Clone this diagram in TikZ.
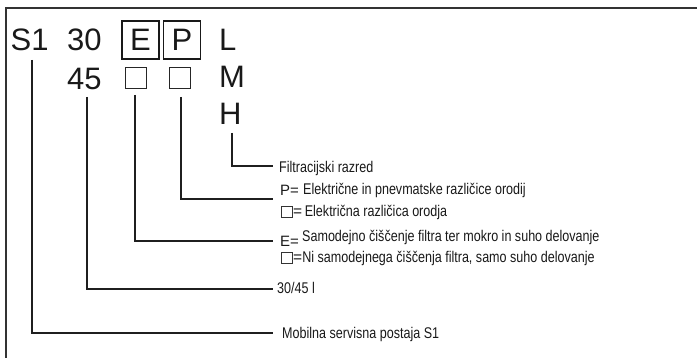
\documentclass[tikz,border=0pt]{standalone}
\usepackage{fontspec}
\setmainfont{Liberation Sans}
\newfontfamily\cond[FakeStretch=0.81]{Liberation Sans}
\begin{document}
\begin{tikzpicture}[x=1pt,y=-1pt,
  big/.style={inner sep=0pt, anchor=base west, font=\fontsize{31}{31}\selectfont, text=black!90},
  bigbox/.style={draw=black!90, line width=1.4pt, minimum width=37pt, minimum height=38pt, inner sep=0pt, font=\fontsize{31}{31}\selectfont, text=black!90},
  emptybox/.style={draw=black!85, line width=0.8pt, minimum size=21pt, inner sep=0pt},
  tinybox/.style={draw=black!80, line width=0.6pt, minimum size=11pt, inner sep=0pt},
  small/.style={inner sep=0pt, anchor=base west, font=\cond\fontsize{15.5}{16}\selectfont, text=black!90},
  letter/.style={inner sep=0pt, anchor=base west, font=\fontsize{15}{15}\selectfont, text=black!90},
  conn/.style={line width=1.6pt, draw=black!88},
  border/.style={line width=1.6pt, draw=black!80}]
\useasboundingbox (0,0) rectangle (697,358);
\draw[border] (6,358) -- (6,8) -- (697,8);

% code letters
\node[big] (S1) at (10.5,51) {S1};
\node[big] (n30) at (67,51) {30};
\node[bigbox] (E) at (140.5,40) {E};
\node[bigbox] (P) at (182,40) {P};
\node[big] (L) at (219,51) {L};
\node[big] (n45) at (67,90) {45};
\node[emptybox] (E2) at (135.5,77.5) {};
\node[emptybox] (P2) at (179.5,77.5) {};
\node[big] (M) at (219,88) {M};
\node[big] (H) at (219,125) {H};

% legend texts
\node[small] (filt) at (279,173) {Filtracijski razred};
\node[letter] (Pl) at (280,196) {P=};
\node[small] (ptext) at (303,195) {Električne in pnevmatske različice orodij};
\node[tinybox] (b1) at (286.5,211.5) {};
\node[small] (eq1) at (293,217) {{\normalfont=}\,Električna različica orodja};
\node[letter] (El) at (280,247) {E=};
\node[small] (etext) at (302,242) {Samodejno čiščenje filtra ter mokro in suho delovanje};
\node[tinybox] (b2) at (286.5,257.5) {};
\node[small] (eq2) at (293,263) {{\normalfont=}Ni samodejnega čiščenja filtra, samo suho delovanje};
\node[small] (vol) at (277,294) {30/45 l};
\node[small] (mob) at (282,339) {Mobilna servisna postaja S1};

% connector ends
\coordinate (cS) at (32,60);
\coordinate (c45) at (87,97);
\coordinate (cE) at (135,95);
\coordinate (cP) at (181,97);
\coordinate (cH) at (232,133);
\coordinate (tH) at (273,166);
\coordinate (tP) at (273,199);
\coordinate (tE) at (273,241);
\coordinate (t45) at (273,289);
\coordinate (tS) at (273,333);

\draw[conn] (cS) |- (tS);
\draw[conn] (c45) |- (t45);
\draw[conn] (cE) |- (tE);
\draw[conn] (cP) |- (tP);
\draw[conn] (cH) |- (tH);
\end{tikzpicture}
\end{document}
